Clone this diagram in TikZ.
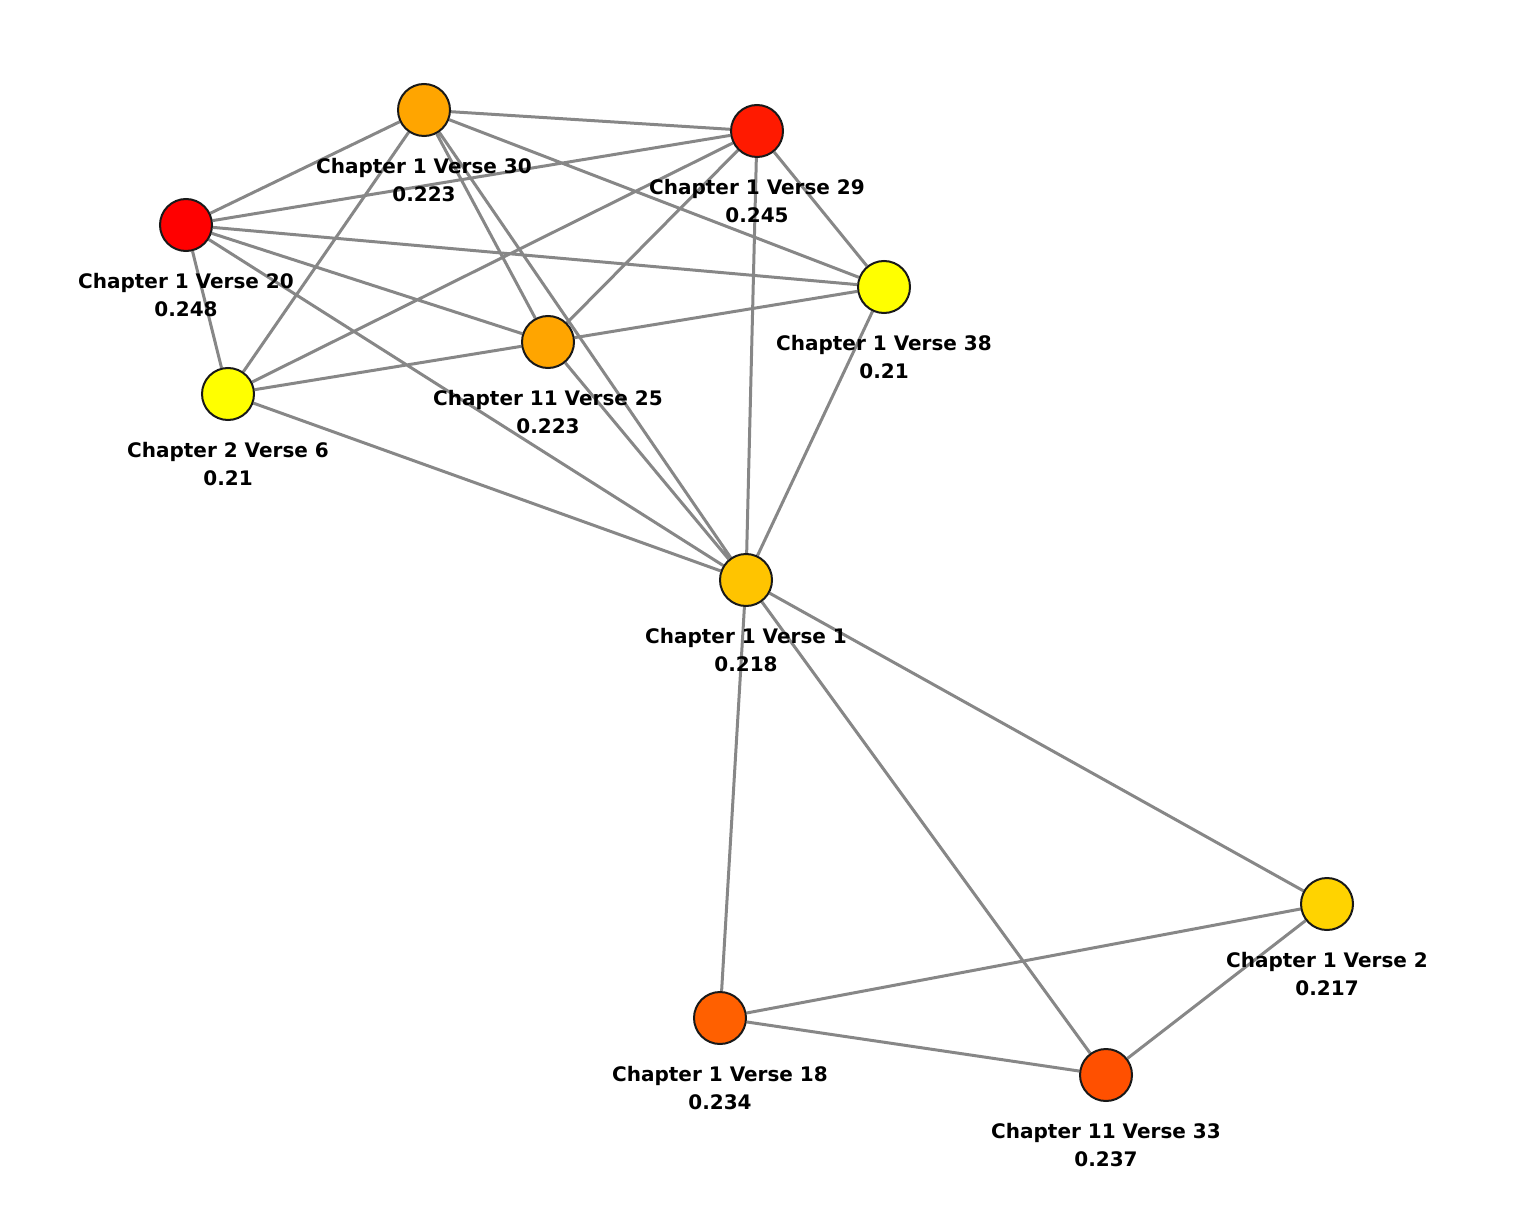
\documentclass[tikz,border=0pt]{standalone}
\usepackage{fontspec}
\setmainfont{DejaVu Sans}
\usetikzlibrary{backgrounds}
\definecolor{edgegray}{HTML}{878787}
\definecolor{cRedA}{HTML}{FF0000}
\definecolor{cRedB}{HTML}{FF1A00}
\definecolor{cOrange}{HTML}{FFA500}
\definecolor{cYellow}{HTML}{FFFF00}
\definecolor{cGold}{HTML}{FFC400}
\definecolor{cGoldB}{HTML}{FFD300}
\definecolor{cOrRedA}{HTML}{FF6000}
\definecolor{cOrRedB}{HTML}{FF5000}
\tikzset{
  vtx/.style={circle, draw=black!90, line width=1pt, minimum size=26pt, inner sep=0pt},
  lbl/.style={align=center, font=\bfseries\fontsize{10}{14}\selectfont, inner sep=0pt},
  edge/.style={draw=edgegray, line width=1.5pt}
}
\begin{document}
\begin{tikzpicture}[x=0.5pt, y=-0.5pt]
\useasboundingbox (0,0) rectangle (1524,1208);
\node[vtx, fill=cOrange] (v30) at (424,110) {};
\node[vtx, fill=cRedB]   (v29) at (757,131) {};
\node[vtx, fill=cRedA]   (v20) at (186,225) {};
\node[vtx, fill=cYellow] (v38) at (884,287) {};
\node[vtx, fill=cOrange] (v25) at (548,342) {};
\node[vtx, fill=cYellow] (v6)  at (228,394) {};
\node[vtx, fill=cGold]   (v1)  at (746,580) {};
\node[vtx, fill=cGoldB]  (v2)  at (1327,904) {};
\node[vtx, fill=cOrRedA] (v18) at (720,1018) {};
\node[vtx, fill=cOrRedB] (v33) at (1106,1075) {};
\begin{pgfonlayer}{background}
\path[edge] (v30) -- (v29) (v30) -- (v20) (v30) -- (v38) (v30) -- (v6) (v30) -- (v25) (v30) -- (v1)
  (v29) -- (v20) (v29) -- (v38) (v29) -- (v6) (v29) -- (v25) (v29) -- (v1)
  (v20) -- (v38) (v20) -- (v25) (v20) -- (v6) (v20) -- (v1)
  (v38) -- (v25) (v38) -- (v1)
  (v25) -- (v6) (v25) -- (v1)
  (v6) -- (v1)
  (v1) -- (v2) (v1) -- (v18) (v1) -- (v33)
  (v2) -- (v18) (v2) -- (v33) (v18) -- (v33);
\end{pgfonlayer}
\node[lbl] (l30) at ([yshift=-35pt]v30.center) {Chapter 1 Verse 30\\0.223};
\node[lbl] (l29) at ([yshift=-35pt]v29.center) {Chapter 1 Verse 29\\0.245};
\node[lbl] (l20) at ([yshift=-35pt]v20.center) {Chapter 1 Verse 20\\0.248};
\node[lbl] (l38) at ([yshift=-35pt]v38.center) {Chapter 1 Verse 38\\0.21};
\node[lbl] (l25) at ([yshift=-35pt]v25.center) {Chapter 11 Verse 25\\0.223};
\node[lbl] (l6)  at ([yshift=-35pt]v6.center)  {Chapter 2 Verse 6\\0.21};
\node[lbl] (l1)  at ([yshift=-35pt]v1.center)  {Chapter 1 Verse 1\\0.218};
\node[lbl] (l2)  at ([yshift=-35pt]v2.center)  {Chapter 1 Verse 2\\0.217};
\node[lbl] (l18) at ([yshift=-35pt]v18.center) {Chapter 1 Verse 18\\0.234};
\node[lbl] (l33) at ([yshift=-35pt]v33.center) {Chapter 11 Verse 33\\0.237};
\end{tikzpicture}
\end{document}
